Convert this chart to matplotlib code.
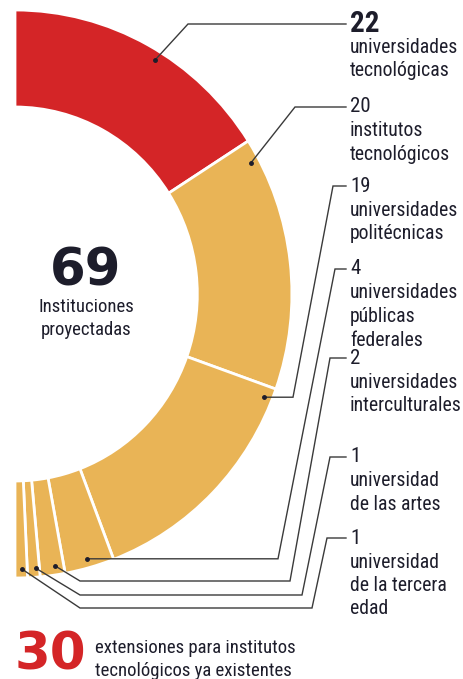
import matplotlib.pyplot as plt
import numpy as np
from matplotlib import font_manager

W, H = 464, 679
SX = 0.975  # the ring in the picture is a little squeezed sideways

# data
valores = [22, 20, 19, 4, 2, 1, 1]
numeros = ["22", "20", "19", "4", "2", "1", "1"]
nombres = ["universidades\ntecnológicas",
           "institutos\ntecnológicos",
           "universidades\npolitécnicas",
           "universidades\npúblicas\nfederales",
           "universidades\ninterculturales",
           "universidad\nde las artes",
           "universidad\nde la tercera\nedad"]
total = 69
total_txt = "Instituciones\nproyectadas"
extensiones = 30
ext_txt = "extensiones para institutos\ntecnológicos ya existentes"

rojo = "#D42527"
oro = "#E9B456"
tinta = "#1d1d2b"
colores = [rojo] + [oro] * (len(valores) - 1)

# pick the narrowest sans that is installed
disponibles = {f.name for f in font_manager.fontManager.ttflist}
narrow = "DejaVu Sans"
for cand in ["Liberation Sans Narrow", "Roboto Condensed", "Liberation Sans", "Roboto"]:
    if cand in disponibles:
        narrow = cand
        break


def P(x, y):
    # pixel position -> data coords
    return x / SX, H - y


fig = plt.figure(figsize=(W / 100, H / 100), dpi=100)
ax = fig.add_axes([0, 0, 1, 1])
cx, cy = P(15, 294)
R, ANCHO = 284, 97

wedges, _ = ax.pie(valores + [sum(valores)], colors=colores + ["none"],
                   startangle=90, counterclock=False, center=(cx, cy), radius=R,
                   wedgeprops=dict(width=ANCHO, edgecolor="white", linewidth=2))
wedges[-1].set_edgecolor("none")
ax.set_xlim(0, W / SX)
ax.set_ylim(0, H)
ax.set_aspect("auto")
ax.axis("off")

# leader lines: where on each wedge the dot sits, then the elbows (pixels)
frac = [0.55, 0.08, 0.05, 0.5, 0.35, 0.3, 0.45]
rutas = [[(188, 24), (346, 24)],
         [(295, 107), (346, 107)],
         [(293, None), (333, 186), (346, 186)],
         [(278, None), (335, 269), (346, 269)],
         [(80, 581), (290, 581), (330, 358), (346, 358)],
         [(80, 595), (302, 595), (330, 457), (346, 457)],
         [(80, 608), (312, 608), (327, 538), (346, 538)]]

lx = P(350, 0)[0]
for i, w in enumerate(wedges[:-1]):
    ang = np.radians(w.theta2 - frac[i] * (w.theta2 - w.theta1))
    dx, dy = cx + 275 * np.cos(ang), cy + 275 * np.sin(ang)
    xs, ys = [dx], [dy]
    for px, py in rutas[i]:
        xs.append(P(px, 0)[0])
        ys.append(dy if py is None else P(0, py)[1])
    ax.plot(xs, ys, color="#3a3a3a", lw=1.0, solid_joinstyle="miter")
    ax.plot(dx, dy, "o", ms=2.5, color=tinta)

    ly = ys[-1]
    if i == 0:
        ax.text(lx, ly, numeros[i], fontsize=21, fontweight="bold",
                family=narrow, color=tinta, va="center", ha="left")
        top = ly - 14
    else:
        ax.text(lx, ly, numeros[i], fontsize=15,
                family=narrow, color=tinta, va="center", ha="left")
        top = ly - 14.5
    ax.text(lx, top, nombres[i], fontsize=14.2, family=narrow,
            color=tinta, va="top", ha="left", linespacing=1.3)

# center total
ax.text(*P(86, 272), str(total), fontsize=37, fontweight="bold", color=tinta,
        ha="center", va="center")
ax.text(*P(86, 298), total_txt, fontsize=13.5, family=narrow, color=tinta,
        ha="center", va="top", linespacing=1.35)

# bottom note
ax.text(*P(50, 655), str(extensiones), fontsize=37, fontweight="bold", color=rojo,
        ha="center", va="center")
ax.text(*P(95, 639), ext_txt, fontsize=13.5, family=narrow, color=tinta,
        ha="left", va="top", linespacing=1.35)

fig.savefig("out.png", dpi=100)
